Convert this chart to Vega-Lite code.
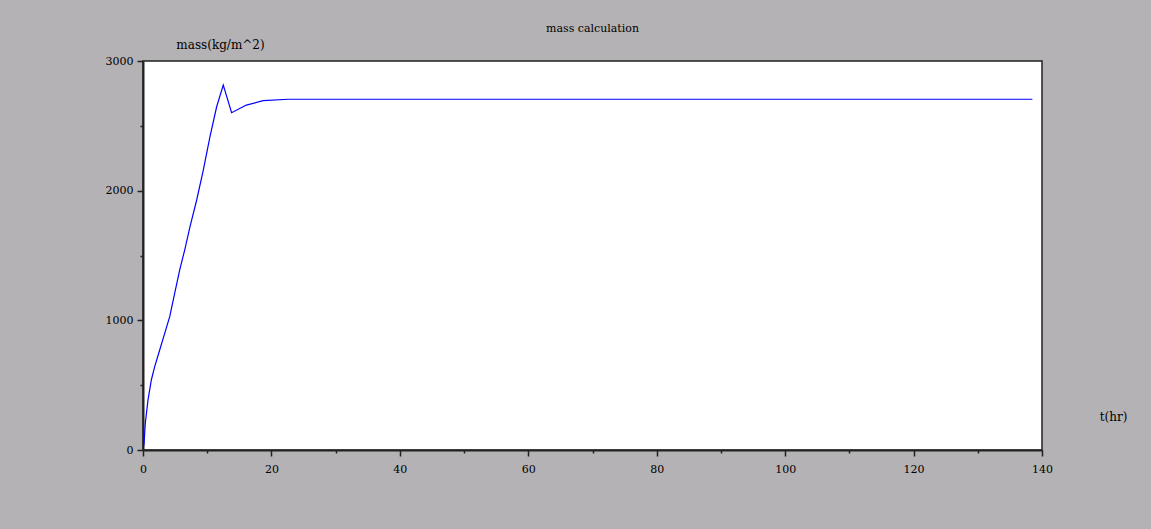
{
  "$schema": "https://vega.github.io/schema/vega-lite/v6.json",
  "width": 899,
  "height": 389,
  "autosize": {"type": "none"},
  "padding": {"left": 143, "top": 61, "right": 109, "bottom": 79},
  "background": "#b4b2b4",
  "title": {
    "text": "mass calculation",
    "font": "DejaVu Serif",
    "fontSize": 11,
    "fontWeight": "normal",
    "color": "#000000",
    "anchor": "middle",
    "offset": 4
  },
  "config": {
    "view": {"fill": "#ffffff", "stroke": "#222222", "strokeWidth": 1.5},
    "axis": {
      "labelFont": "DejaVu Serif",
      "labelFontSize": 11,
      "labelColor": "#000000",
      "titleFont": "DejaVu Serif",
      "titleFontSize": 12,
      "titleFontWeight": "normal",
      "titleColor": "#000000",
      "domainColor": "#222222",
      "domainWidth": 2,
      "tickColor": "#222222",
      "grid": false
    }
  },
  "data": {
    "values": [
      {"t": 0.05, "m": 20},
      {"t": 0.16, "m": 51},
      {"t": 0.36, "m": 206},
      {"t": 0.78, "m": 386},
      {"t": 1.3, "m": 540},
      {"t": 1.82, "m": 643},
      {"t": 2.6, "m": 771},
      {"t": 3.38, "m": 900},
      {"t": 4.16, "m": 1028},
      {"t": 4.93, "m": 1208},
      {"t": 5.71, "m": 1388},
      {"t": 6.49, "m": 1542},
      {"t": 7.32, "m": 1722},
      {"t": 8.36, "m": 1928},
      {"t": 9.39, "m": 2159},
      {"t": 10.43, "m": 2416},
      {"t": 11.47, "m": 2647},
      {"t": 12.5, "m": 2815},
      {"t": 13.8, "m": 2601},
      {"t": 16.1, "m": 2660},
      {"t": 18.7, "m": 2694},
      {"t": 22.6, "m": 2705},
      {"t": 60, "m": 2705},
      {"t": 100, "m": 2705},
      {"t": 138.5, "m": 2705}
    ]
  },
  "layer": [
    {
      "mark": {"type": "line", "color": "#0000ff", "strokeWidth": 1.2},
      "encoding": {
        "x": {
          "field": "t", "type": "quantitative",
          "scale": {"domain": [0, 140], "nice": false, "zero": false},
          "axis": {
            "orient": "bottom",
            "values": [0, 20, 40, 60, 80, 100, 120, 140],
            "format": "d",
            "tickSize": 6,
            "tickWidth": 1.5,
            "labelPadding": 7,
            "labelFlush": false,
            "title": "t(hr)",
            "titleX": 970,
            "titleY": -34,
            "titleAlign": "center",
            "titleBaseline": "middle"
          }
        },
        "y": {
          "field": "m", "type": "quantitative",
          "scale": {"domain": [0, 3000], "nice": false},
          "axis": {
            "orient": "left",
            "values": [0, 1000, 2000, 3000],
            "format": "d",
            "tickSize": 6,
            "tickWidth": 1.5,
            "labelPadding": 4,
            "labelFlush": false,
            "title": "mass(kg/m^2)",
            "titleAngle": 0,
            "titleX": 77,
            "titleY": -17,
            "titleAlign": "center",
            "titleBaseline": "middle"
          }
        }
      }
    },
    {
      "mark": {"type": "line", "color": "#0000ff", "strokeWidth": 1.2, "opacity": 0},
      "encoding": {
        "x": {
          "field": "t", "type": "quantitative",
          "axis": {
            "orient": "bottom",
            "values": [10, 30, 50, 70, 90, 110, 130],
            "tickSize": 3,
            "tickWidth": 1.5,
            "labels": false,
            "domain": false,
            "title": null
          }
        },
        "y": {
          "field": "m", "type": "quantitative",
          "axis": {
            "orient": "left",
            "values": [500, 1500, 2500],
            "tickSize": 3,
            "tickWidth": 1.5,
            "labels": false,
            "domain": false,
            "title": null
          }
        }
      }
    }
  ],
  "resolve": {"axis": {"x": "independent", "y": "independent"}}
}
